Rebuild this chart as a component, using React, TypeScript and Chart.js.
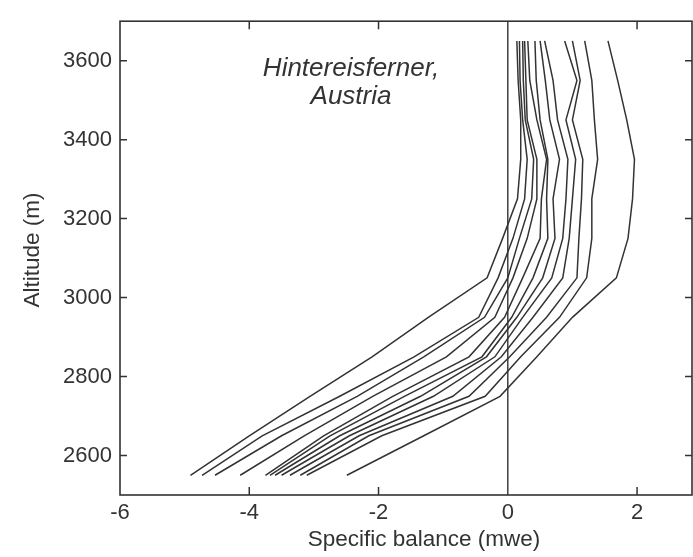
import React, { useEffect, useRef } from "react";
import { Chart, registerables } from "chart.js";

Chart.register(...registerables);

// Altitude levels (m) shared by every yearly profile
const ALTITUDES = [2550, 2650, 2750, 2850, 2950, 3050, 3150, 3250, 3350, 3450, 3550, 3650];

// Specific balance profiles (mwe), one per year
const PROFILE_01 = [-4.91, -4.0, -3.06, -2.1, -1.23, -0.32, -0.08, 0.15, 0.2, 0.2, 0.16, 0.14];
const PROFILE_02 = [-4.73, -3.8, -2.6, -1.45, -0.45, -0.15, 0.08, 0.26, 0.3, 0.23, 0.19, 0.18];
const PROFILE_03 = [-4.53, -3.5, -2.33, -1.3, -0.36, 0.0, 0.18, 0.37, 0.4, 0.27, 0.24, 0.23];
const PROFILE_04 = [-4.14, -3.15, -2.09, -0.95, -0.2, 0.08, 0.3, 0.45, 0.45, 0.3, 0.28, 0.26];
const PROFILE_05 = [-3.75, -2.85, -1.78, -0.6, -0.05, 0.23, 0.5, 0.52, 0.6, 0.45, 0.34, 0.31];
const PROFILE_06 = [-3.68, -2.75, -1.6, -0.4, 0.06, 0.39, 0.62, 0.6, 0.62, 0.5, 0.44, 0.42];
const PROFILE_07 = [-3.6, -2.6, -1.35, -0.33, 0.14, 0.54, 0.73, 0.7, 0.8, 0.65, 0.58, 0.5];
const PROFILE_08 = [-3.5, -2.45, -1.15, -0.2, 0.23, 0.68, 0.85, 0.9, 0.93, 0.77, 0.7, 0.57];
const PROFILE_09 = [-3.37, -2.3, -0.85, -0.1, 0.39, 0.85, 0.95, 1.0, 1.05, 0.9, 1.07, 0.88];
const PROFILE_10 = [-3.21, -2.15, -0.6, 0.03, 0.6, 1.07, 1.1, 1.14, 1.16, 1.0, 1.12, 1.0];
const PROFILE_11 = [-3.11, -1.95, -0.35, 0.2, 0.8, 1.22, 1.3, 1.3, 1.39, 1.34, 1.3, 1.19];
const PROFILE_12 = [-2.49, -1.3, -0.12, 0.45, 1.0, 1.68, 1.86, 1.93, 1.96, 1.84, 1.7, 1.55];

const PROFILES = [
  PROFILE_01, PROFILE_02, PROFILE_03, PROFILE_04, PROFILE_05, PROFILE_06,
  PROFILE_07, PROFILE_08, PROFILE_09, PROFILE_10, PROFILE_11, PROFILE_12,
];

// Axis ticks and labels
const X_TICKS = [-6, -4, -2, 0, 2];
const Y_TICKS = [2600, 2800, 3000, 3200, 3400, 3600];
const X_TITLE = "Specific balance (mwe)";
const Y_TITLE = "Altitude (m)";
const NOTE_LINES = ["Hintereisferner,", "Austria"];

const INK = "#333333";
const FONT = '"Liberation Sans", Arial, sans-serif';

const framePlugin = {
  id: "framePlugin",
  afterDraw(chart: any) {
    const { ctx, chartArea } = chart;
    const { left, right, top, bottom } = chartArea;
    const xs = chart.scales.x;
    const ys = chart.scales.y;
    ctx.save();
    ctx.strokeStyle = INK;
    ctx.lineWidth = 1.6;
    ctx.strokeRect(left, top, right - left, bottom - top);

    // zero line
    ctx.lineWidth = 1.4;
    const x0 = xs.getPixelForValue(0);
    ctx.beginPath();
    ctx.moveTo(x0, top);
    ctx.lineTo(x0, bottom);
    ctx.stroke();

    // inward tick marks
    ctx.lineWidth = 1.5;
    for (const v of Y_TICKS) {
      const py = ys.getPixelForValue(v);
      ctx.beginPath();
      ctx.moveTo(left, py);
      ctx.lineTo(left + 7, py);
      ctx.moveTo(right, py);
      ctx.lineTo(right - 7, py);
      ctx.stroke();
    }
    for (const v of X_TICKS) {
      if (v === 0 || v === -6) continue;
      const px = xs.getPixelForValue(v);
      ctx.beginPath();
      ctx.moveTo(px, bottom);
      ctx.lineTo(px, bottom - 8);
      ctx.moveTo(px, top);
      ctx.lineTo(px, top + 8);
      ctx.stroke();
    }

    // axis titles
    ctx.fillStyle = INK;
    ctx.font = `22.5px ${FONT}`;
    ctx.textAlign = "center";
    ctx.textBaseline = "middle";
    ctx.fillText(X_TITLE, 424, 540);
    ctx.save();
    ctx.translate(33, 250);
    ctx.rotate(-Math.PI / 2);
    ctx.fillText(Y_TITLE, 0, 0);
    ctx.restore();

    // annotation
    ctx.font = `italic 26px ${FONT}`;
    ctx.fillText(NOTE_LINES[0], 351, 69);
    ctx.fillText(NOTE_LINES[1], 351, 97);
    ctx.restore();
  },
};

export default function App() {
  const ref = useRef<HTMLCanvasElement | null>(null);

  useEffect(() => {
    if (!ref.current) return;
    const datasets = PROFILES.map((p, i) => ({
      label: `Profile ${i + 1}`,
      data: p.map((v, j) => ({ x: v, y: ALTITUDES[j] })),
      showLine: true,
      borderColor: INK,
      borderWidth: 1.5,
      pointRadius: 0,
      fill: false,
      tension: 0,
    }));
    const chart = new Chart(ref.current, {
      type: "scatter",
      data: { datasets },
      plugins: [framePlugin],
      options: {
        animation: false,
        responsive: false,
        devicePixelRatio: 1,
        layout: { padding: { left: 0, top: 12, right: 1, bottom: 0 } },
        plugins: { legend: { display: false }, tooltip: { enabled: false } },
        scales: {
          x: {
            type: "linear",
            min: -6,
            max: 2.85,
            afterFit(scale: any) { scale.height = 62; },
            afterBuildTicks(scale: any) { scale.ticks = X_TICKS.map((v) => ({ value: v })); },
            grid: { display: false, drawTicks: false },
            border: { display: false },
            ticks: {
              color: INK,
              font: { family: FONT, size: 22 },
              padding: 5,
              maxRotation: 0,
              callback: (v: any) => String(v),
            },
          },
          y: {
            type: "linear",
            min: 2500,
            max: 3700,
            afterFit(scale: any) { scale.width = 120; },
            afterBuildTicks(scale: any) { scale.ticks = Y_TICKS.map((v) => ({ value: v })); },
            grid: { display: false, drawTicks: false },
            border: { display: false },
            ticks: {
              color: INK,
              font: { family: FONT, size: 22 },
              padding: 8,
              callback: (v: any) => String(v),
            },
          },
        },
      },
    });
    return () => chart.destroy();
  }, []);

  return (
    <div style={{ position: "absolute", left: 0, top: 0, width: 693, height: 557, background: "#fff" }}>
      <canvas ref={ref} width={693} height={557} />
    </div>
  );
}
